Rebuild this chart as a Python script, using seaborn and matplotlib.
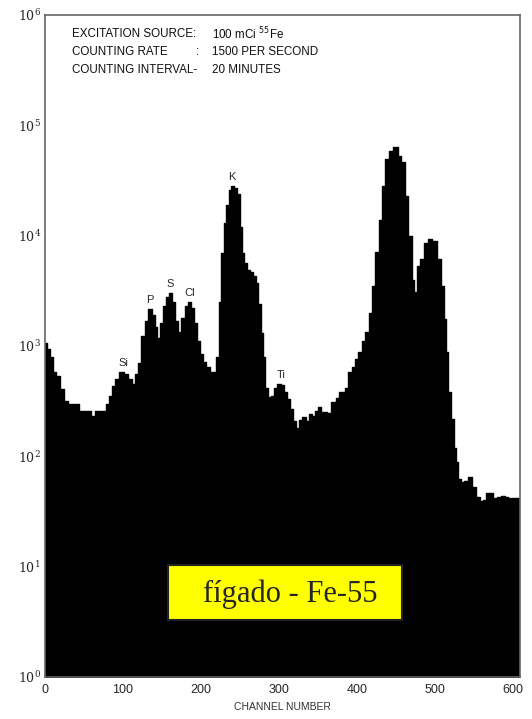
import matplotlib
matplotlib.use("Agg")
import matplotlib.pyplot as plt
import matplotlib.patches as mpatches
from matplotlib.ticker import LogLocator, NullFormatter, FixedLocator
import seaborn as sns
import pandas as pd
import numpy as np

# ---- data ----
channel = [0, 4, 8, 12, 16, 22, 26, 32, 40, 48, 56, 62, 67, 75, 81, 84, 87, 92,
           99, 104, 109, 113, 117, 121, 126, 130, 135, 139, 142, 146, 149, 153, 157,
           161, 165, 169, 173, 177, 181, 185, 189, 193, 197, 201, 205, 209, 213, 218,
           221, 224, 227, 231, 234, 237, 240, 244, 248, 251, 254, 257, 261, 265, 269,
           272, 275, 278, 281, 284, 288, 292, 296, 300, 304, 308, 312, 316, 320, 324,
           328, 332, 336, 340, 344, 348, 352, 356, 360, 364, 370, 375, 379, 383, 387,
           391, 395, 399, 404, 408, 413, 417, 421, 426, 430, 434, 438, 443, 449, 455,
           459, 463, 468, 472, 474, 479, 483, 489, 493, 500, 506, 510, 512, 515, 519,
           523, 526, 528, 532, 535, 540, 545, 549, 555, 560, 564, 567, 573, 577, 582,
           587, 592, 596, 600, 604, 609]
counts = [1070, 940, 800, 580, 530, 410, 315, 300, 300, 260, 260, 230, 260, 260,
          300, 350, 430, 500, 580, 560, 500, 450, 560, 700, 1230, 1700, 2150, 1900,
          1500, 1180, 1600, 2300, 2800, 3000, 2500, 1700, 1350, 1800, 2300, 2500, 2200,
          1600, 1100, 850, 720, 640, 580, 580, 800, 2500, 7000, 13000, 19000, 26000,
          28000, 27000, 24000, 12000, 7000, 5600, 4900, 4700, 4300, 3700, 2400, 1300,
          800, 420, 345, 350, 420, 450, 440, 380, 330, 270, 210, 180, 215, 225, 210,
          240, 230, 260, 280, 250, 250, 245, 310, 340, 380, 380, 420, 580, 650, 760,
          880, 1100, 1340, 2000, 3500, 7100, 14000, 28000, 50000, 59000, 63000, 53000,
          47000, 23000, 10000, 4000, 3100, 5300, 6200, 8500, 9300, 8900, 6200, 3500,
          1750, 880, 380, 220, 120, 88, 62, 58, 60, 65, 53, 43, 39, 40, 47, 47, 42,
          43, 44, 43, 42, 42, 42, 42]

peak_labels = ["Si", "P", "S", "Cl", "K", "Ti"]
peak_channels = [100, 135, 161, 186, 240, 303]
peak_counts = [580, 2150, 3000, 2500, 28000, 450]

x_ticks = [0, 100, 200, 300, 400, 500, 600]
header_labels = ["EXCITATION SOURCE:", "COUNTING RATE", "COUNTING INTERVAL-"]
header_values = [r"100 mCi $^{55}$Fe", "1500 PER SECOND", "20 MINUTES"]
box_text = "fígado - Fe-55"

df = pd.DataFrame({"channel": channel, "counts": counts})

sns.set_style("white")
plt.rcParams["font.family"] = ["Liberation Sans", "DejaVu Sans"]

W, H = 532, 719
fig = plt.figure(figsize=(W / 100, H / 100), dpi=100)
ax = fig.add_axes([45 / W, 1 - 677 / H, (520 - 45) / W, (677 - 15) / H])

sns.lineplot(data=df, x="channel", y="counts", ax=ax, color="black",
             drawstyle="steps-mid", linewidth=1, zorder=1)
ax.fill_between(df["channel"], df["counts"], 0.1, step="mid",
                color="black", linewidth=0, zorder=1)

ax.set_yscale("log")
ax.set_ylim(1, 1e6)
ax.set_xlim(0, 609)
ax.set_axisbelow(False)

ax.xaxis.set_major_locator(FixedLocator(x_ticks))
ax.set_xticklabels([str(t) for t in x_ticks],
                   fontfamily=["Liberation Sans Narrow", "Liberation Sans"], fontsize=9)
ax.tick_params(axis="x", direction="in", length=28, width=1, color="#e6e6e6", pad=5)
ax.yaxis.set_major_locator(LogLocator(base=10, numticks=10))
ax.yaxis.set_minor_locator(LogLocator(base=10, subs=np.arange(2, 10), numticks=10))
ax.yaxis.set_minor_formatter(NullFormatter())
ax.tick_params(axis="y", which="major", direction="in", length=10, width=1,
               color="#bbbbbb", pad=3, labelsize=9)
ax.tick_params(axis="y", which="minor", direction="in", length=5, width=0.8,
               color="#bbbbbb")
for lab in ax.get_yticklabels():
    lab.set_fontfamily("DejaVu Serif")

for s in ax.spines.values():
    s.set_color("#666666")
    s.set_linewidth(1.2)

ax.set_xlabel("CHANNEL NUMBER", fontsize=7.5, color="#333333", labelpad=4)
ax.set_ylabel("")

for lab, ch, ct in zip(peak_labels, peak_channels, peak_counts):
    ax.annotate(lab, (ch, ct), xytext=(0, 3), textcoords="offset points",
                ha="center", va="bottom", fontsize=8,
                fontfamily=["Liberation Sans Narrow", "Liberation Sans"])

ys = [34, 52, 70]
for lab, val, y in zip(header_labels, header_values, ys):
    fig.text(72 / W, 1 - y / H, lab, fontsize=8.4, va="center", ha="left",
             color="#111111")
    fig.text(212 / W, 1 - y / H, val, fontsize=8.4, va="center", ha="left",
             color="#111111")
fig.text(196 / W, 1 - 52 / H, ":", fontsize=8.4, va="center", ha="left",
         color="#111111")

rect = mpatches.Rectangle((168 / W, 1 - 620 / H), 234 / W, 55 / H,
                          transform=fig.transFigure, facecolor="#ffff00",
                          edgecolor="#222222", linewidth=1.5, zorder=5)
fig.patches.append(rect)
fig.text(290 / W, 1 - 594 / H, box_text, fontsize=22, ha="center", va="center",
         fontfamily=["Liberation Serif", "DejaVu Serif"], zorder=6)

fig.savefig("out.png", dpi=100)
